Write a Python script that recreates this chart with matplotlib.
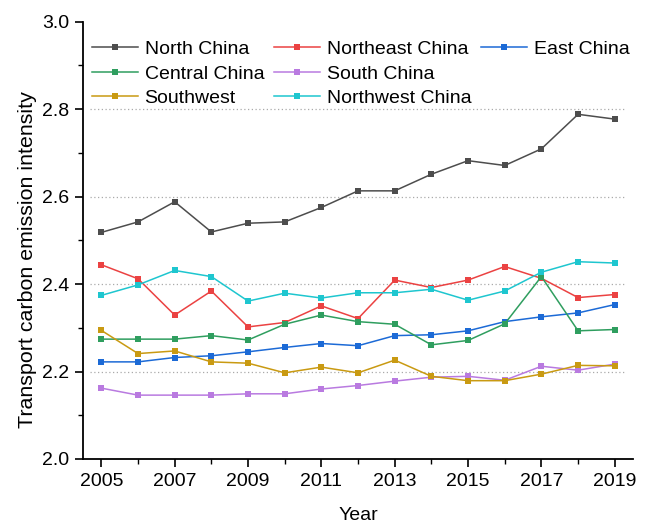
import matplotlib
matplotlib.use("Agg")
import matplotlib.pyplot as plt
from matplotlib.lines import Line2D
from matplotlib.ticker import MultipleLocator, FormatStrFormatter

plt.rcParams['font.family'] = ['Liberation Sans', 'DejaVu Sans']

years = list(range(2005, 2020))

north = [2.518, 2.542, 2.588, 2.519, 2.539, 2.542, 2.575, 2.613, 2.613, 2.651, 2.682, 2.671, 2.709, 2.788, 2.777]
northeast = [2.444, 2.412, 2.329, 2.384, 2.302, 2.312, 2.350, 2.321, 2.409, 2.392, 2.409, 2.440, 2.413, 2.369, 2.376]
east = [2.222, 2.222, 2.232, 2.236, 2.245, 2.255, 2.264, 2.259, 2.282, 2.284, 2.293, 2.314, 2.325, 2.334, 2.353]
central = [2.274, 2.274, 2.274, 2.282, 2.272, 2.308, 2.329, 2.314, 2.308, 2.261, 2.271, 2.309, 2.417, 2.293, 2.296]
south = [2.162, 2.146, 2.146, 2.146, 2.149, 2.149, 2.160, 2.168, 2.178, 2.187, 2.189, 2.180, 2.212, 2.203, 2.217]
southwest = [2.294, 2.241, 2.247, 2.222, 2.219, 2.197, 2.210, 2.197, 2.226, 2.189, 2.179, 2.179, 2.194, 2.214, 2.213]
northwest = [2.374, 2.398, 2.431, 2.417, 2.361, 2.379, 2.368, 2.380, 2.380, 2.388, 2.363, 2.384, 2.427, 2.451, 2.448]

series = [
    ("North China", north, "#4d4d4d"),
    ("Northeast China", northeast, "#eb4242"),
    ("East China", east, "#1c6ad6"),
    ("Central China", central, "#2f9e5f"),
    ("South China", south, "#b97ae0"),
    ("Southwest", southwest, "#c99a12"),
    ("Northwest China", northwest, "#1ec6cf"),
]

fig = plt.figure(figsize=(6.46, 5.26), dpi=100)
ax = fig.add_axes([0.1285, 0.1274, 0.8515, 0.8316])

handles = {}
for name, vals, color in series:
    (ln,) = ax.plot(years, vals, color=color, lw=1.1, marker="s", ms=4.2,
                    markeredgewidth=0, label=name, zorder=3)
    handles[name] = ln

for g in [2.2, 2.4, 2.6, 2.8]:
    ax.axhline(g, xmin=0.012, xmax=0.985, color="#aaaaaa", lw=0.9,
               ls=(0, (1, 2)), zorder=1)

ax.set_xlim(2004.5, 2019.5)
ax.set_ylim(2.0, 3.0)
ax.xaxis.set_major_locator(MultipleLocator(2))
ax.xaxis.set_minor_locator(MultipleLocator(1))
ax.yaxis.set_major_locator(MultipleLocator(0.2))
ax.yaxis.set_minor_locator(MultipleLocator(0.1))
ax.set_xticks(range(2005, 2020, 2))
ax.yaxis.set_major_formatter(FormatStrFormatter("%.1f"))

for s in ["top", "right"]:
    ax.spines[s].set_visible(False)
for s in ["left", "bottom"]:
    ax.spines[s].set_linewidth(1.3)

ax.tick_params(axis="both", which="major", direction="out", length=6, width=1.2,
               labelsize=14, pad=4)
ax.tick_params(axis="both", which="minor", direction="out", length=3.5, width=1.0)

ax.set_xlabel("Year", fontsize=14, labelpad=12)
ax.set_ylabel("Transport carbon emission intensity", fontsize=15.4)
ax.yaxis.set_label_coords(-0.083, 0.457)

blank = Line2D([], [], color="none")
order = ["North China", "Central China", "Southwest",
         "Northeast China", "South China", "Northwest China",
         "East China"]
leg_handles = [handles[n] for n in order] + [blank, blank]
leg_labels = order + ["", ""]
ax.legend(leg_handles, leg_labels, ncol=3, loc="upper left",
          bbox_to_anchor=(0.016, 0.957), frameon=False, fontsize=14,
          handlelength=2.35, handletextpad=0.36, columnspacing=0.5,
          labelspacing=0.36, borderaxespad=0.0, borderpad=0.0)

fig.savefig("out.png", dpi=100)
